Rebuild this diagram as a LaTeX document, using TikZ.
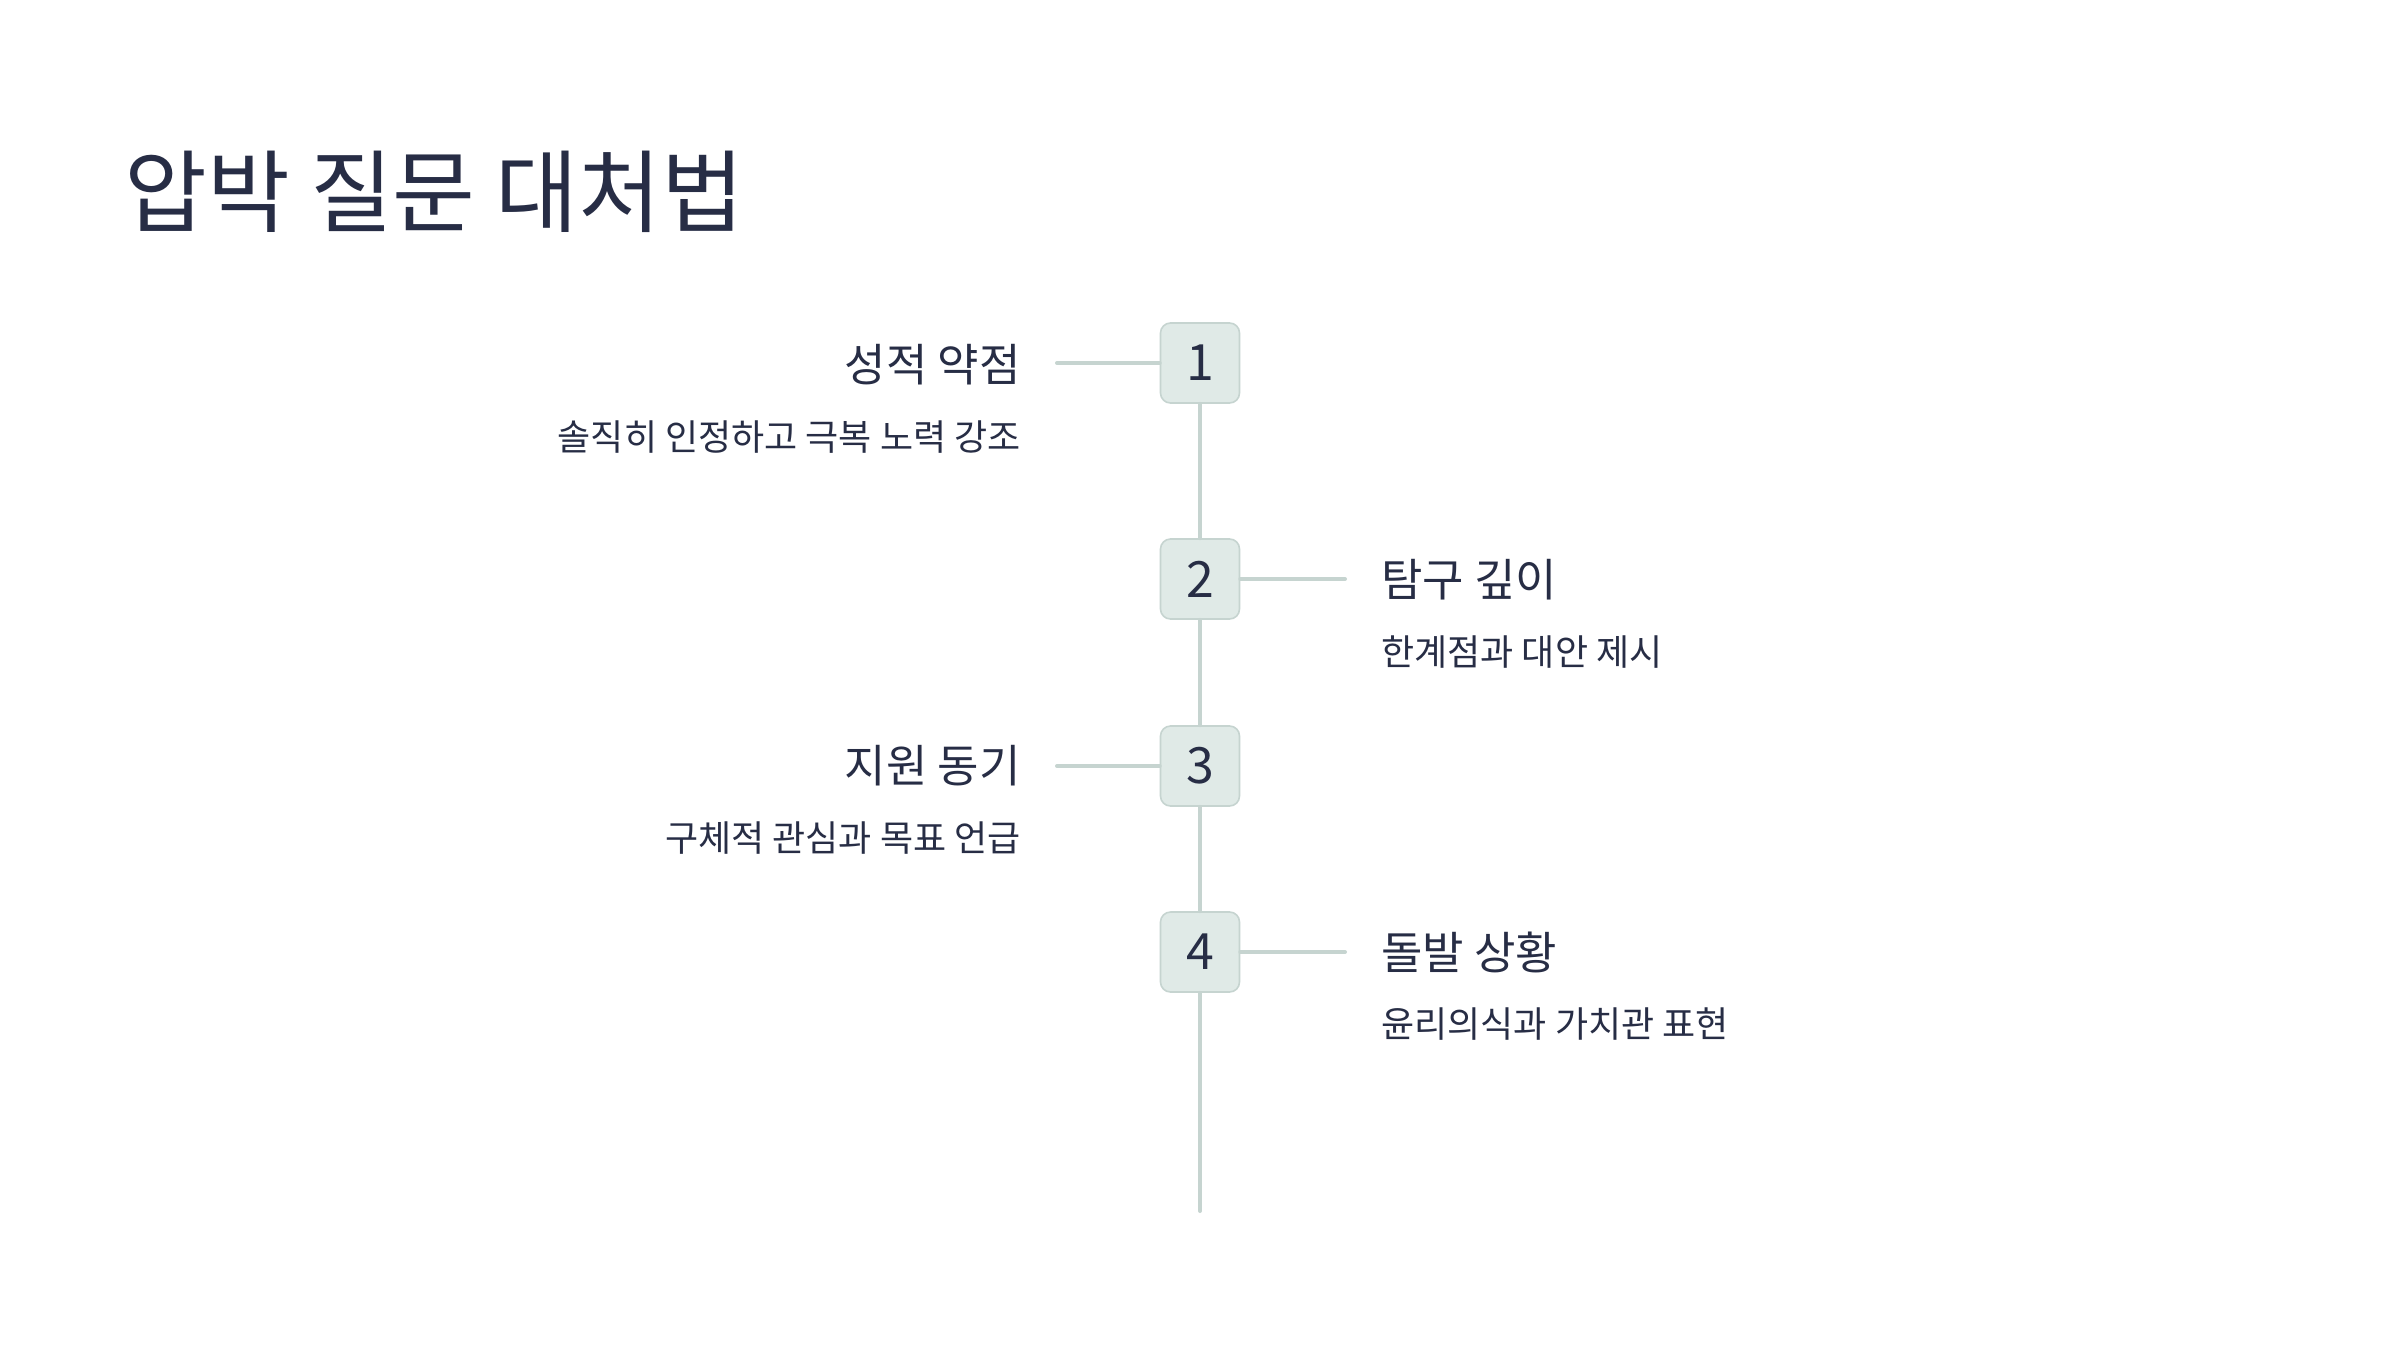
\documentclass[tikz,border=0pt]{standalone}
\usepackage{fontspec}
\setmainfont{Noto Sans CJK KR}
\definecolor{ink}{HTML}{272D45}
\definecolor{boxfill}{HTML}{E0EAE7}
\definecolor{boxline}{HTML}{C6D4D0}
\begin{document}
\begin{tikzpicture}[x=0.5pt,y=-0.5pt,
  numbox/.style={draw=boxline, line width=0.8pt, fill=boxfill, rounded corners=5pt,
    minimum width=39.5pt, minimum height=40pt, inner sep=0pt, text=ink,
    font=\fontsize{25}{28}\selectfont},
  conn/.style={draw=boxline, line width=2pt, line cap=round},
  head/.style={inner sep=0pt, text=ink, font=\fontsize{22.5}{26}\selectfont},
  sub/.style={inner sep=0pt, text=ink, font=\fontsize{18}{22}\selectfont}]
\useasboundingbox[fill=white] (0,0) rectangle (2400,1350);
\node[inner sep=0pt, anchor=west, text=ink, font=\fontsize{45}{54}\selectfont] (title) at (124,192) {압박 질문 대처법};

\node[numbox] (b1) at (1200,363) {1};
\node[numbox] (b2) at (1200,579) {2};
\node[numbox] (b3) at (1200,766) {3};
\node[numbox] (b4) at (1200,952) {4};
\coordinate (c1) at (1057,363);
\coordinate (c2) at (1345,579);
\coordinate (c3) at (1057,766);
\coordinate (c4) at (1345,952);
\coordinate (bottom) at (1200,1211);

\draw[conn] (b1.south) -- (b2.north);
\draw[conn] (b2.south) -- (b3.north);
\draw[conn] (b3.south) -- (b4.north);
\draw[conn] (b4.south) -- (bottom);
\draw[conn] (b1.west) -- (c1);
\draw[conn] (b2.east) -- (c2);
\draw[conn] (b3.west) -- (c3);
\draw[conn] (b4.east) -- (c4);

\node[head, anchor=east] (h1) at (1021,365) {성적 약점};
\node[sub, anchor=east] (s1) at (1021,437) {솔직히 인정하고 극복 노력 강조};
\node[head, anchor=west] (h2) at (1381,580) {탐구 깊이};
\node[sub, anchor=west] (s2) at (1381,652) {한계점과 대안 제시};
\node[head, anchor=east] (h3) at (1021,766) {지원 동기};
\node[sub, anchor=east] (s3) at (1021,838) {구체적 관심과 목표 언급};
\node[head, anchor=west] (h4) at (1381,952) {돌발 상황};
\node[sub, anchor=west] (s4) at (1381,1024) {윤리의식과 가치관 표현};
\end{tikzpicture}
\end{document}
